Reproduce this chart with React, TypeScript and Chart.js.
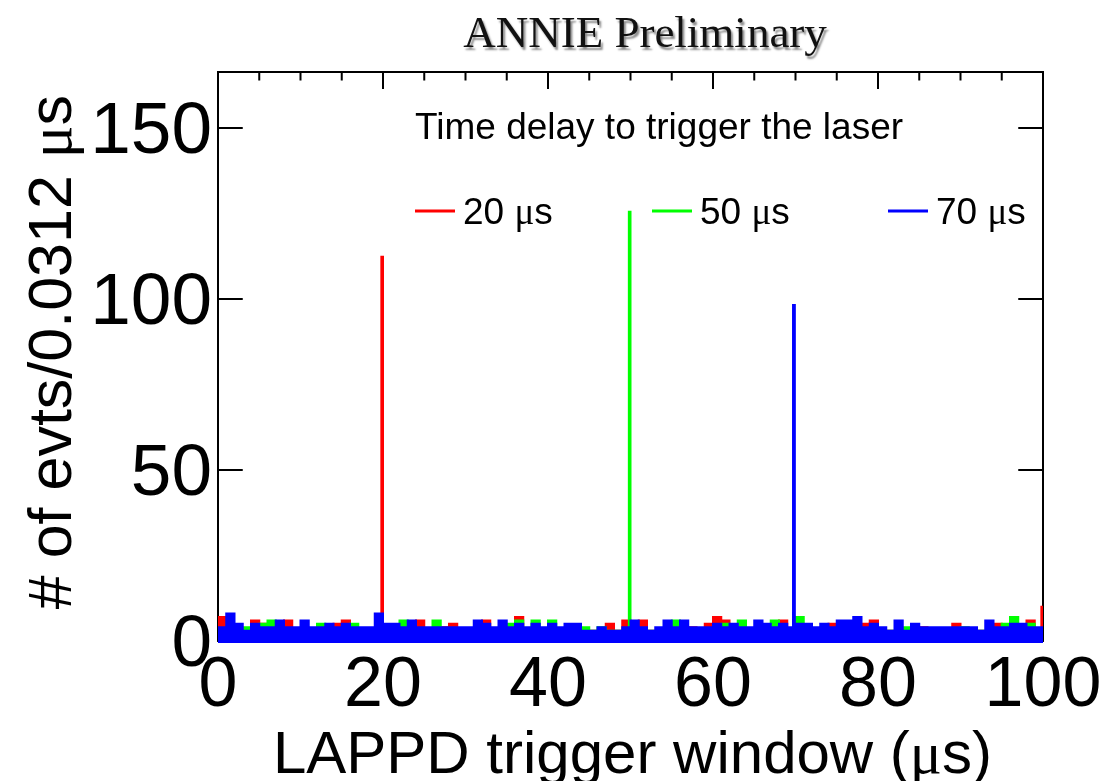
import React, { useEffect, useRef } from "react";
import { Chart, registerables } from "chart.js";

Chart.register(...registerables);

// ---------------- data ----------------
// Noise level read per 1 µs slice (counts per 0.0312 µs bin, local top of the band)
const noiseBinWidth = 1;
const xRange = [0, 100];
const yRange = [-0.6, 166.35];

const redNoise = [
  7, 3, 3, 3, 6, 5, 3, 3, 6, 3,
  3, 3, 3, 3, 5, 6, 3, 3, 3, 3,
  3, 3, 3, 3, 6, 3, 3, 4, 5, 3,
  3, 3, 6, 3, 3, 3, 7, 3, 3, 3,
  3, 3, 3, 3, 3, 3, 3, 5, 3, 6,
  3, 6, 3, 3, 3, 3, 3, 4, 3, 5,
  7, 6, 3, 3, 3, 3, 3, 3, 6, 3,
  3, 3, 3, 3, 5, 3, 3, 3, 5, 6,
  3, 3, 3, 3, 3, 4, 3, 3, 3, 5,
  3, 3, 3, 3, 5, 3, 3, 3, 6, 3,
];
const greenNoise = [
  3, 3, 3, 4, 3, 5, 6, 3, 3, 3,
  3, 3, 5, 3, 3, 3, 5, 3, 3, 3,
  3, 3, 6, 3, 3, 3, 6, 3, 3, 3,
  3, 3, 3, 3, 3, 5, 6, 3, 6, 3,
  6, 3, 3, 3, 4, 3, 4, 3, 3, 3,
  3, 3, 3, 3, 3, 6, 3, 3, 3, 3,
  3, 5, 3, 6, 3, 3, 3, 6, 3, 3,
  7, 3, 3, 3, 3, 3, 3, 3, 3, 3,
  3, 3, 3, 4, 3, 3, 3, 3, 3, 3,
  4, 3, 3, 3, 3, 5, 7, 3, 5, 3,
];
const blueNoise = [
  4, 8, 5, 3, 5, 4, 4, 6, 4, 4,
  6, 4, 4, 5, 4, 5, 4, 4, 4, 8,
  5, 5, 4, 6, 4, 4, 4, 4, 4, 4,
  4, 6, 5, 4, 6, 4, 5, 4, 5, 4,
  5, 4, 5, 5, 3, 3, 4, 3, 3, 4,
  6, 4, 3, 4, 6, 4, 6, 4, 4, 4,
  5, 4, 5, 4, 4, 6, 5, 4, 5, 4,
  5, 5, 4, 5, 4, 6, 6, 7, 4, 5,
  4, 3, 6, 3, 5, 4, 4, 4, 4, 4,
  4, 4, 3, 6, 4, 4, 5, 5, 4, 4,
];

// laser peaks (position in µs, height in counts)
const redPeakX = [19.8, 99.8];
const redPeakY = [112.3, 10];
const greenPeakX = [49.8];
const greenPeakY = [125.5];
const bluePeakX = [69.7];
const bluePeakY = [98.2];
const peakBinWidth = 0.22;

const legendDelays = ["20", "50", "70"];
const seriesColors = ["#ff0000", "#00ff00", "#0000ff"];
const xTickValues = [0, 20, 40, 60, 80, 100];
const xMinorStep = 5;
const yTickValues = [0, 50, 100, 150];

const titleText = "ANNIE Preliminary";
const legendHeader = "Time delay to trigger the laser";
const xTitleParts = ["LAPPD trigger window (", "μ", "s)"];
const yTitleParts = ["# of evts/0.0312 ", "μ", "s"];

// ---------------- helpers ----------------
const SANS = '"Liberation Sans", Arial, Helvetica, sans-serif';
const SERIF = '"Liberation Serif", "Times New Roman", serif';

function buildHist(noise: number[], peakX: number[], peakY: number[]) {
  const pts: { x: number; y: number }[] = [];
  for (let k = 0; k < noise.length; k++) {
    const x0 = xRange[0] + k * noiseBinWidth;
    pts.push({ x: x0, y: noise[k] });
    peakX.forEach((px, i) => {
      if (px >= x0 && px < x0 + noiseBinWidth) {
        pts.push({ x: px, y: peakY[i] });
        pts.push({ x: Math.min(px + peakBinWidth, x0 + noiseBinWidth), y: noise[k] });
      }
    });
  }
  pts.push({ x: xRange[1], y: noise[noise.length - 1] });
  return pts;
}

function drawRich(
  ctx: CanvasRenderingContext2D,
  parts: [string, string][],
  x: number,
  y: number,
  align: "left" | "center" | "right"
) {
  const widths = parts.map(([t, f]) => {
    ctx.font = f;
    return ctx.measureText(t).width;
  });
  const total = widths.reduce((a, b) => a + b, 0);
  let cx = align === "left" ? x : align === "center" ? x - total / 2 : x - total;
  ctx.textAlign = "left";
  ctx.textBaseline = "alphabetic";
  parts.forEach(([t, f], i) => {
    ctx.font = f;
    ctx.fillText(t, cx, y);
    cx += widths[i];
  });
}

const rootDecor = {
  id: "rootDecor",
  beforeDatasetsDraw(chart: any) {
    const ctx: CanvasRenderingContext2D = chart.ctx;
    const xs = chart.scales.x;
    const ys = chart.scales.y;
    const left = xs.getPixelForValue(xRange[0]);
    const right = xs.getPixelForValue(xRange[1]);
    const top = ys.getPixelForValue(yRange[1]);
    const bottom = ys.getPixelForValue(0);
    ctx.save();
    ctx.strokeStyle = "#000";
    ctx.lineWidth = 2;
    ctx.strokeRect(left, top, right - left, bottom - top);
    const plotH = bottom - top;
    const plotW = right - left;
    const majX = 0.03 * plotH;
    const majY = 0.03 * plotW;
    ctx.beginPath();
    for (let v = xRange[0]; v <= xRange[1] + 1e-9; v += xMinorStep) {
      const px = xs.getPixelForValue(v);
      const len = xTickValues.includes(v) ? majX : majX / 2;
      ctx.moveTo(px, top);
      ctx.lineTo(px, top + len);
      ctx.moveTo(px, bottom);
      ctx.lineTo(px, bottom - len);
    }
    yTickValues.forEach((v) => {
      const py = ys.getPixelForValue(v);
      ctx.moveTo(left, py);
      ctx.lineTo(left + majY, py);
      ctx.moveTo(right, py);
      ctx.lineTo(right - majY, py);
    });
    ctx.stroke();
    ctx.restore();
  },
  afterDraw(chart: any) {
    const ctx: CanvasRenderingContext2D = chart.ctx;
    const xs = chart.scales.x;
    const ys = chart.scales.y;
    ctx.save();
    ctx.fillStyle = "#000";

    // x tick labels
    ctx.font = `70px ${SANS}`;
    ctx.textAlign = "center";
    ctx.textBaseline = "alphabetic";
    xTickValues.forEach((v) => {
      ctx.fillText(String(v), xs.getPixelForValue(v), 706);
    });
    // y tick labels
    ctx.font = `73px ${SANS}`;
    ctx.textAlign = "right";
    yTickValues.forEach((v) => {
      ctx.fillText(String(v), 212, ys.getPixelForValue(v) + 25);
    });

    // axis titles
    drawRich(
      ctx,
      [
        [xTitleParts[0], `60px ${SANS}`],
        [xTitleParts[1], `60px ${SERIF}`],
        [xTitleParts[2], `60px ${SANS}`],
      ],
      992,
      773,
      "right"
    );
    ctx.save();
    ctx.translate(71, 95);
    ctx.rotate(-Math.PI / 2);
    drawRich(
      ctx,
      [
        [yTitleParts[0], `61px ${SANS}`],
        [yTitleParts[1], `61px ${SERIF}`],
        [yTitleParts[2], `61px ${SANS}`],
      ],
      0,
      0,
      "right"
    );
    ctx.restore();

    // legend
    ctx.font = `37px ${SANS}`;
    ctx.textAlign = "left";
    ctx.fillText(legendHeader, 415, 139);
    const entryX = [415, 652, 888];
    legendDelays.forEach((d, i) => {
      ctx.strokeStyle = seriesColors[i];
      ctx.lineWidth = 3;
      ctx.beginPath();
      ctx.moveTo(entryX[i], 211);
      ctx.lineTo(entryX[i] + 40, 211);
      ctx.stroke();
      drawRich(
        ctx,
        [
          [d + " ", `37px ${SANS}`],
          ["μ", `37px ${SERIF}`],
          ["s", `37px ${SANS}`],
        ],
        entryX[i] + 48,
        224,
        "left"
      );
    });

    // title with shadow
    ctx.save();
    ctx.font = `45px ${SERIF}`;
    ctx.textAlign = "center";
    ctx.shadowColor = "rgba(0,0,0,0.45)";
    ctx.shadowOffsetX = 2;
    ctx.shadowOffsetY = 3;
    ctx.shadowBlur = 2;
    ctx.fillStyle = "#111";
    ctx.fillText(titleText, 645, 47);
    ctx.restore();

    ctx.restore();
  },
};

export default function App() {
  const ref = useRef<HTMLCanvasElement | null>(null);
  useEffect(() => {
    if (!ref.current) return;
    const mk = (label: string, color: string, pts: any[], order: number) => ({
      label,
      data: pts,
      borderColor: color,
      backgroundColor: color,
      borderWidth: 2,
      stepped: "before" as const,
      pointRadius: 0,
      fill: { value: yRange[0] },
      order,
    });
    const chart = new Chart(ref.current, {
      type: "line",
      data: {
        datasets: [
          mk("70 μs", seriesColors[2], buildHist(blueNoise, bluePeakX, bluePeakY), 0),
          mk("50 μs", seriesColors[1], buildHist(greenNoise, greenPeakX, greenPeakY), 1),
          mk("20 μs", seriesColors[0], buildHist(redNoise, redPeakX, redPeakY), 2),
        ],
      },
      options: {
        responsive: false,
        animation: false,
        devicePixelRatio: 1,
        layout: { padding: { left: 218, right: 76, top: 72, bottom: 138 } },
        scales: {
          x: { type: "linear", min: xRange[0], max: xRange[1], display: false },
          y: { type: "linear", min: yRange[0], max: yRange[1], display: false },
        },
        plugins: {
          legend: { display: false },
          tooltip: { enabled: false },
          title: { display: false },
        },
        elements: { line: { tension: 0 } },
      },
      plugins: [rootDecor],
    } as any);
    return () => chart.destroy();
  }, []);
  return (
    <div style={{ position: "absolute", left: 0, top: 0, width: 1119, height: 781, background: "#fff" }}>
      <canvas ref={ref} width={1119} height={781} style={{ width: 1119, height: 781 }} />
    </div>
  );
}
